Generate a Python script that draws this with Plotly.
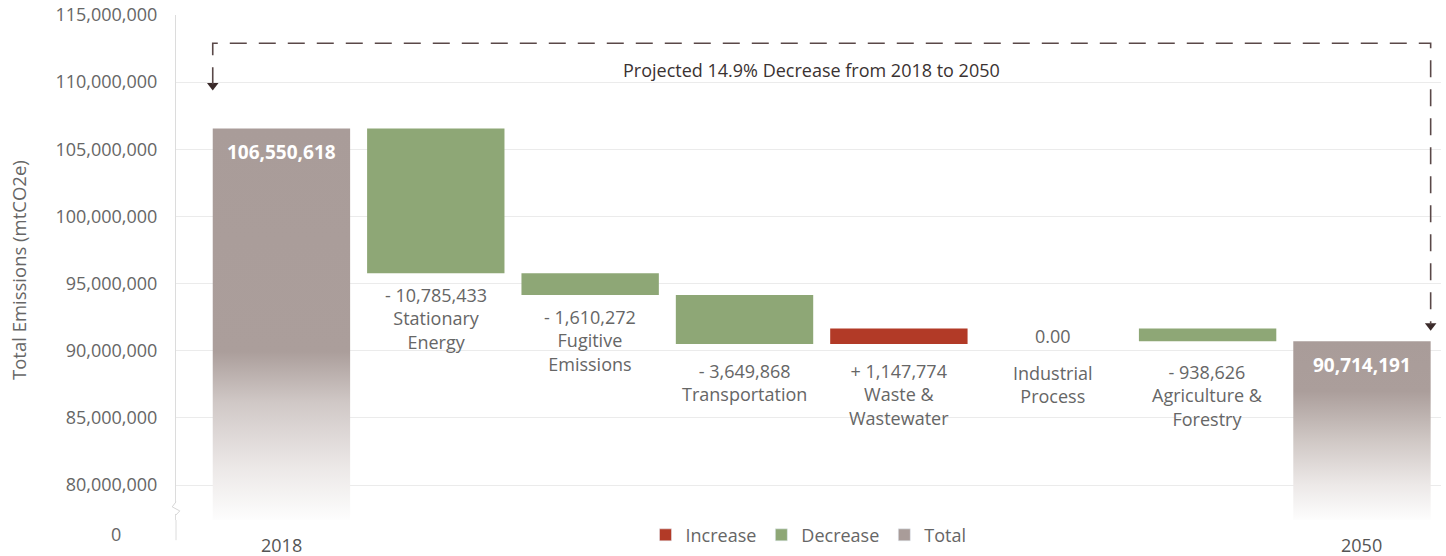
import plotly.graph_objects as go

# ---------------- data ----------------
categories = ["2018", "Stationary Energy", "Fugitive Emissions", "Transportation",
              "Waste & Wastewater", "Industrial Process", "Agriculture & Forestry", "2050"]
category_names = ["2018", "Stationary<br>Energy", "Fugitive<br>Emissions", "Transportation",
                  "Waste &<br>Wastewater", "Industrial<br>Process", "Agriculture &<br>Forestry", "2050"]
total_2018 = 106550618
changes = [-10785433, -1610272, -3649868, 1147774, 0, -938626]
change_labels = ["- 10,785,433", "- 1,610,272", "- 3,649,868", "+ 1,147,774", "0.00", "- 938,626"]
total_2050 = 90714191
total_labels = ["106,550,618", "90,714,191"]
y_ticks = [80000000, 85000000, 90000000, 95000000, 100000000, 105000000, 110000000, 115000000]
legend_names = ["Increase", "Decrease", "Total"]
headline = "Projected 14.9% Decrease from 2018 to 2050"

# ---------------- style ----------------
FONT = "Open Sans"
TXT = "#666666"
RED = "#b23a27"
GREEN = "#8ea776"
TAUPE = "#a99c99"
Y_MIN, Y_MAX = 77400000, 115000000
BAR_W = 0.89
label_yshift = [-8, -8, -13, -13, 0, -17]
FS = 18

x_idx = list(range(len(categories)))

fig = go.Figure()

# total bars with vertical gradient
grad_2018 = [[0, "#fdfdfd"], [0.14, "#ebe7e6"], [0.3, "#d0c8c6"], [0.43, "#ab9e9b"], [1, TAUPE]]
grad_2050 = [[0, "#fdfdfd"], [0.2, "#ece8e7"], [0.45, "#cfc7c4"], [0.72, "#ab9e9b"], [1, TAUPE]]
for xi, val, grad in [(x_idx[0], total_2018, grad_2018), (x_idx[-1], total_2050, grad_2050)]:
    fig.add_trace(go.Scatter(
        x=[xi - BAR_W / 2, xi + BAR_W / 2, xi + BAR_W / 2, xi - BAR_W / 2, xi - BAR_W / 2],
        y=[Y_MIN, Y_MIN, val, val, Y_MIN],
        mode="lines", line=dict(width=0), fill="toself",
        fillgradient=dict(type="vertical", colorscale=grad),
        hoverinfo="skip", showlegend=False))

# change bars
levels = [total_2018]
for c in changes:
    levels.append(levels[-1] + c)
bases, heights, colors = [], [], []
for i, c in enumerate(changes):
    prev = levels[i]
    bases.append(min(prev, prev + c))
    heights.append(abs(c))
    colors.append(RED if c > 0 else GREEN)
fig.add_trace(go.Bar(x=x_idx[1:-1], y=heights, base=bases, width=BAR_W,
                     marker=dict(color=colors, line=dict(width=0)),
                     showlegend=False, hoverinfo="skip"))

# legend-only traces
for name, col in zip(legend_names, [RED, GREEN, TAUPE]):
    fig.add_trace(go.Bar(x=[None], y=[None], name=name, marker_color=col))

annotations = []
# change labels
for i, c in enumerate(changes):
    xi = x_idx[i + 1]
    bottom = bases[i]
    if c != 0:
        annotations.append(dict(x=xi, y=bottom, yanchor="top", yshift=label_yshift[i],
                                text=change_labels[i] + "<br>" + category_names[i + 1],
                                showarrow=False, font=dict(size=FS, color=TXT)))
    else:
        annotations.append(dict(x=xi, y=levels[i], yanchor="middle", yshift=-7,
                                text=change_labels[i], showarrow=False,
                                font=dict(size=FS, color=TXT)))
        annotations.append(dict(x=xi, y=levels[i], yanchor="top", yshift=-30,
                                text=category_names[i + 1], showarrow=False,
                                font=dict(size=FS, color=TXT)))

# total value labels
for xi, val, lab in [(x_idx[0], total_2018, total_labels[0]), (x_idx[-1], total_2050, total_labels[1])]:
    annotations.append(dict(x=xi, y=val, yanchor="top", yshift=-9, text="<b>" + lab + "</b>",
                            showarrow=False, font=dict(size=19, color="white")))

# category labels under total bars
for xi in [x_idx[0], x_idx[-1]]:
    annotations.append(dict(x=xi, y=0, yref="paper", yanchor="middle", yshift=-25,
                            text=category_names[xi], showarrow=False,
                            font=dict(size=FS, color="#555555")))

# headline
bracket_top = total_2018 + 6350000
annotations.append(dict(x=(x_idx[0] + x_idx[-1]) / 2, y=bracket_top, yanchor="top", yshift=-13,
                        xshift=-10, text=headline, showarrow=False,
                        font=dict(size=FS, color="#3a3232")))

# y-axis title
annotations.append(dict(x=-0.1249, y=0.495, xref="paper", yref="paper", textangle=-90,
                        xanchor="center", yanchor="middle",
                        text="Total Emissions (mtCO2e)", showarrow=False,
                        font=dict(size=18.5, color=TXT)))
# broken-axis zero label
annotations.append(dict(x=-0.0474, y=-0.028, xref="paper", yref="paper",
                        xanchor="center", yanchor="middle",
                        text="0", showarrow=False, font=dict(size=FS, color=TXT)))

# dashed bracket
xl = x_idx[0] - BAR_W / 2
xr = x_idx[-1] + BAR_W / 2
left_tip = total_2018 + 2900000
right_tip = total_2050 + 850000
shapes = [
    dict(type="path", xref="x", yref="y",
         path=f"M {xl},{left_tip + 400000} L {xl},{bracket_top} L {xr},{bracket_top} L {xr},{right_tip + 400000}",
         line=dict(color="#5a4848", width=1.6, dash="17px,12px")),
    # axis extension below plot + break
    dict(type="line", xref="paper", yref="paper", x0=0, x1=0, y0=0, y1=-0.04,
         line=dict(color="#dcdcdc", width=1)),
    dict(type="rect", xref="paper", yref="paper", x0=-0.004, x1=0.004, y0=0.012, y1=0.034,
         fillcolor="white", line=dict(width=0)),
    dict(type="path", xref="paper", yref="paper",
         path="M 0,0.036 L -0.003,0.026 L 0.003,0.018 L 0,0.01",
         line=dict(color="#d6d6d6", width=1)),
]
fig.add_trace(go.Scatter(x=[xl, xr], y=[left_tip + 300000, right_tip + 300000], mode="markers",
                         marker=dict(symbol="triangle-down", size=10, color="#3a2a2a"),
                         showlegend=False, hoverinfo="skip", cliponaxis=False))

fig.update_layout(
    width=1446, height=556, autosize=False,
    margin=dict(l=176, r=5, t=15, b=36, autoexpand=False),
    plot_bgcolor="white", paper_bgcolor="white",
    barmode="overlay",
    font=dict(family=FONT, color=TXT),
    xaxis=dict(range=[-0.683, 7.512], showgrid=False, zeroline=False,
               showticklabels=False, showline=False, fixedrange=True),
    yaxis=dict(range=[Y_MIN, Y_MAX], tickvals=y_ticks, tickformat=",d",
               gridcolor="#ebebeb", gridwidth=1, zeroline=False,
               showline=True, linecolor="#dcdcdc", linewidth=1,
               ticks="", ticklabelstandoff=14, automargin=False,
               ticklabeloverflow="allow", fixedrange=True,
               tickfont=dict(size=FS, color=TXT)),
    legend=dict(orientation="h", x=0.5, xanchor="center", y=-0.03, yanchor="middle",
                font=dict(size=FS, color=TXT), bgcolor="rgba(0,0,0,0)",
                itemwidth=30, traceorder="normal"),
    annotations=annotations,
    shapes=shapes,
    showlegend=True,
)

# remove the default page margin so the figure fills the window exactly
fig.write_html("out.html", config={"displayModeBar": False},
               post_script="document.body.style.margin='0';document.body.style.overflow='hidden';")
